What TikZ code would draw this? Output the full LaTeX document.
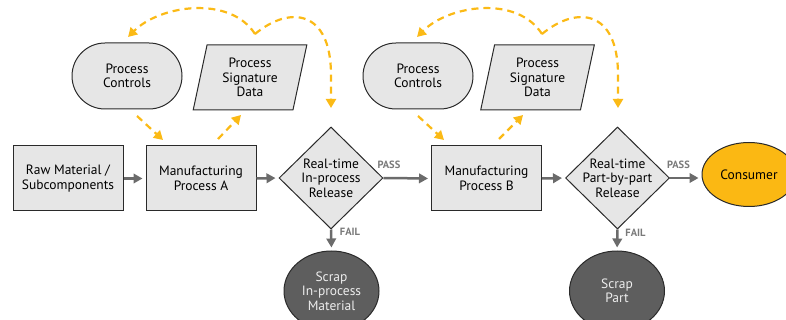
\documentclass[tikz,border=0pt]{standalone}
\usepackage{fontspec}
\setmainfont{PT Sans}
\usetikzlibrary{shapes.geometric,shapes.misc,arrows.meta}
\definecolor{boxfill}{HTML}{E6E6E6}
\definecolor{boxline}{HTML}{2A2A2A}
\definecolor{flowgray}{HTML}{6B6B6B}
\definecolor{dashyellow}{HTML}{FBBA16}
\definecolor{consumerfill}{HTML}{FBB813}
\definecolor{scrapfill}{HTML}{5E5E5E}
\definecolor{labelgray}{HTML}{7A7A7A}
\tikzset{
  base/.style={draw=boxline, line width=1pt, fill=boxfill, align=center, inner sep=0pt,
    font=\fontsize{13.5}{14.5}\selectfont},
  procbox/.style={base, rectangle, minimum width=110pt, minimum height=65pt},
  ctrlbox/.style={base, rounded rectangle, minimum width=110pt, minimum height=66pt},
  databox/.style={base, trapezium, trapezium left angle=77, trapezium right angle=103,
    trapezium stretches=true, minimum width=114pt, minimum height=65pt},
  decbox/.style={base, diamond, minimum width=104pt, minimum height=102pt},
  scrapbox/.style={base, ellipse, fill=scrapfill, text=white!93!black, minimum width=95pt, minimum height=80pt},
  consbox/.style={base, ellipse, fill=consumerfill, minimum width=94pt, minimum height=64pt},
  flow/.style={draw=flowgray, line width=2.5pt, -{Triangle[length=9pt,width=9.5pt]}, shorten >=3pt},
  feed/.style={draw=dashyellow, line width=2.2pt, dash pattern=on 7pt off 5pt,
    -{Triangle[length=9pt,width=10pt]}},
  tag/.style={text=labelgray, font=\fontsize{10.5}{12}\selectfont\bfseries, inner sep=0pt},
  dtext/.style={align=center, font=\fontsize{13.5}{14.5}\selectfont, inner sep=0pt}
}
\begin{document}
\begin{tikzpicture}[x=1pt,y=-1pt]
\useasboundingbox (0,0) rectangle (786,320);
% main row
\node[procbox] (raw) at (68,178.5) {Raw Material /\\Subcomponents};
\node[procbox] (ma) at (201,178.5) {Manufacturing\\Process A};
\node[decbox] (d1) at (331,178) {};
\node[dtext] at (d1) {Real-time\\In-process\\Release};
\node[procbox] (mb) at (486.5,178.5) {Manufacturing\\Process B};
\node[decbox] (d2) at (617.5,178) {};
\node[dtext] at (d2) {Real-time\\Part-by-part\\Release};
\node[consbox] (cons) at (749,174.5) {Consumer};
\node[scrapbox] (s1) at (331.5,291) {Scrap\\In-process\\Material};
\node[scrapbox] (s2) at (617,291) {Scrap\\Part};
% top row
\node[ctrlbox] (ca) at (127,76) {Process\\Controls};
\node[databox] (pa) at (250,77.5) {Process\\Signature\\Data};
\node[ctrlbox] (cb) at (418,76) {Process\\Controls};
\node[databox] (pb) at (537.5,77.5) {Process\\Signature\\Data};
% flow arrows
\draw[flow] (raw.east) -- (ma.west);
\draw[flow] (ma.east) -- (d1.west);
\draw[flow] (d1.east) -- (mb.west);
\draw[flow] (mb.east) -- (d2.west);
\draw[flow] (d2.east) -- (d2.east -| cons.west);
\draw[flow] (d1.south) -- (s1.north);
\draw[flow] (d2.south) -- (s2.north);
\node[tag] (pass1) at (389,165) {PASS};
\node[tag] (pass2) at (678.5,165) {PASS};
\node[tag] (fail1) at (350,232) {FAIL};
\node[tag] (fail2) at (635.5,233) {FAIL};
% feedback, A
\coordinate (ca1) at (137,116); \coordinate (ca2) at (163,140);
\coordinate (pa1) at (218,139); \coordinate (pa2) at (241,115);
\coordinate (fa) at (255,34);
\coordinate (fal) at (128,37); \coordinate (far) at (331,108);
\draw[feed] (ca1) -- (ca2);
\draw[feed] (pa1) -- (pa2);
\draw[feed] (fa) .. controls (230,-5) and (160,5) .. (fal);
\draw[feed] (fa) .. controls (290,5) and (331,10) .. (331,75) -- (far);
% feedback, B
\coordinate (cb1) at (418,116); \coordinate (cb2) at (444,140);
\coordinate (pb1) at (499,139); \coordinate (pb2) at (523,115);
\coordinate (fb) at (542,34);
\coordinate (fbl) at (417,37); \coordinate (fbr) at (618,108);
\draw[feed] (cb1) -- (cb2);
\draw[feed] (pb1) -- (pb2);
\draw[feed] (fb) .. controls (517,-5) and (449,5) .. (fbl);
\draw[feed] (fb) .. controls (577,5) and (618,10) .. (618,75) -- (fbr);
\end{tikzpicture}
\end{document}
